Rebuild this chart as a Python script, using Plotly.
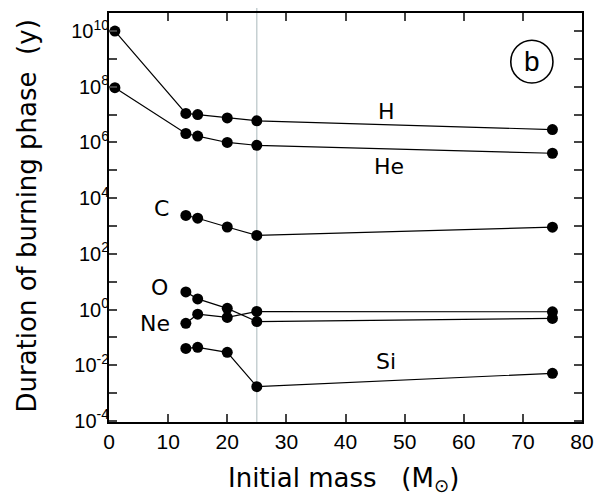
import plotly.graph_objects as go

mass = [1, 13, 15, 20, 25, 75]
H = [1.0e10, 1.1e7, 1.0e7, 7.6e6, 6.0e6, 2.9e6]
He = [9.3e7, 2.1e6, 1.7e6, 1.0e6, 7.9e5, 4.1e5]
mass_adv = [13, 15, 20, 25, 75]
C = [2.4e3, 1.9e3, 920, 460, 910]
Ne = [0.32, 0.68, 0.52, 0.85, 0.83]
O = [4.3, 2.4, 1.1, 0.37, 0.48]
Si = [0.040, 0.044, 0.029, 0.0017, 0.0051]

labels = [("H", 46.9, 7.11), ("He", 47.4, 5.14), ("C", 8.8, 3.64),
          ("O", 8.6, 0.78), ("Ne", 7.8, -0.51), ("Si", 46.9, -1.87)]

xticks = [0, 10, 20, 30, 40, 50, 60, 70, 80]
ydecades = list(range(-4, 11))

FONT = "Liberation Sans, Arial, Helvetica, sans-serif"
WIDE = "DejaVu Sans, Liberation Sans, sans-serif"

fig = go.Figure()
series = [(mass, H), (mass, He), (mass_adv, C), (mass_adv, Ne), (mass_adv, O), (mass_adv, Si)]
for xs, ys in series:
    fig.add_trace(go.Scatter(x=xs, y=ys, mode="lines+markers",
                             line=dict(color="black", width=1.2),
                             marker=dict(color="black", size=11),
                             showlegend=False, cliponaxis=False))

fig.add_shape(type="line", xref="x", yref="paper", x0=25, x1=25, y0=0, y1=1.012,
              line=dict(color="#b8c4c6", width=1.2), layer="below")

for txt, lx, ly in labels:
    fig.add_annotation(x=lx, y=ly, text=txt, showarrow=False,
                       font=dict(size=22, color="black", family=WIDE))

# circled panel label "b"
cx, cy, r = 0.894, 0.881, 21.5
pw, ph = 605 - 109 - 14, 501 - 11 - 79
fig.add_annotation(xref="paper", yref="paper", x=cx, y=cy, text="b", showarrow=False,
                   xanchor="center", yanchor="middle",
                   font=dict(size=28, color="black", family=FONT))
fig.add_shape(type="circle", xref="paper", yref="paper",
              x0=cx - r / pw, x1=cx + r / pw, y0=cy - r / ph, y1=cy + r / ph,
              line=dict(color="black", width=1.6))

# axis titles
fig.add_annotation(xref="paper", yref="paper", x=0.496, y=-0.141,
                   text="Initial mass\u00a0\u00a0\u00a0(M<sub>\u2299</sub>)", showarrow=False,
                   xanchor="center", yanchor="middle",
                   font=dict(size=26, color="black", family=WIDE))
fig.add_annotation(xref="paper", yref="paper", x=-0.174, y=0.504, textangle=-90,
                   text="Duration of burning phase\u00a0\u00a0(y)", showarrow=False,
                   xanchor="center", yanchor="middle",
                   font=dict(size=26, color="black", family=WIDE))

ticktext = []
for d in ydecades:
    ticktext.append("10<sup>%d</sup>" % d if d % 2 == 0 else "")

fig.update_layout(
    width=605, height=501,
    margin=dict(l=109, r=14, t=11, b=79),
    plot_bgcolor="white", paper_bgcolor="white",
    font=dict(family=FONT, color="black"),
    xaxis=dict(range=[0, 80], tickvals=xticks, ticks="inside", ticklen=8, tickwidth=1.5,
               showline=True, linecolor="black", linewidth=2, mirror="ticks",
               showgrid=False, zeroline=False,
               tickfont=dict(size=21, family=FONT)),
    yaxis=dict(type="log", range=[-4.04, 10.65],
               tickvals=[10.0 ** d for d in ydecades], ticktext=ticktext,
               ticks="inside", ticklen=8, tickwidth=1.5,
               showline=True, linecolor="black", linewidth=2, mirror="ticks",
               showgrid=False, zeroline=False, ticklabelstandoff=-6,
               tickfont=dict(size=20, family=FONT)),
)

fig.write_html("out.html")
